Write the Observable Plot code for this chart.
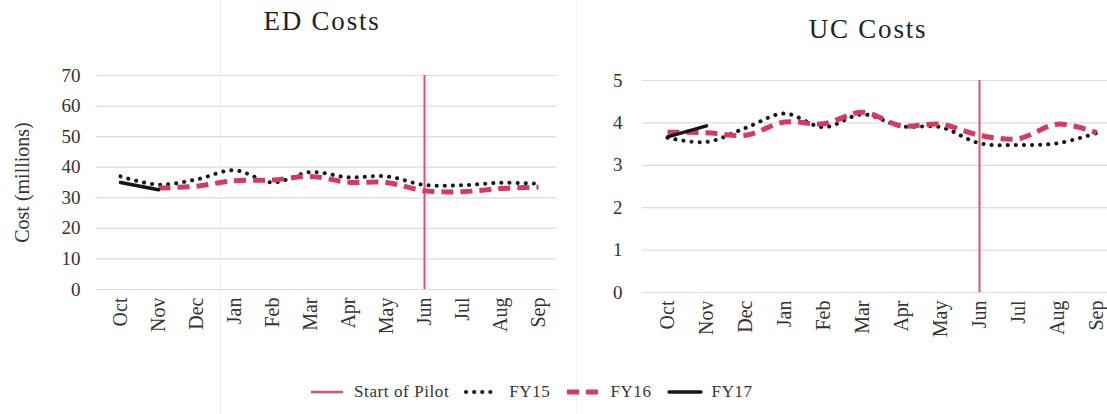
<!DOCTYPE html>
<html>
<head>
<meta charset="utf-8">
<script src="https://cdn.jsdelivr.net/npm/d3@7"></script>
<script src="https://cdn.jsdelivr.net/npm/@observablehq/plot@0.6"></script>
<style>
  html, body { margin: 0; padding: 0; background: #fff; }
  #wrap { position: relative; width: 1107px; height: 414px; overflow: hidden; font-family: "Liberation Serif", "Times New Roman", Times, serif; }
  .title { position: absolute; font-size: 27px; letter-spacing: 1.8px; color: #222; transform: translateX(-50%); white-space: nowrap; line-height: 1; }
  .panel { position: absolute; top: 0; }
  .sep { position: absolute; top: 0; width: 1px; height: 414px; background: #f0f0f0; }
  #legend { position: absolute; top: 382px; left: 308px; display: flex; align-items: center; font-size: 17px; letter-spacing: 0.6px; color: #333; white-space: nowrap; }
  #legend .item { display: flex; align-items: center; margin-right: 14px; }
  #legend svg { margin-right: 8px; }
  svg text { font-family: "Liberation Serif", "Times New Roman", Times, serif; }
</style>
</head>
<body>
<div id="wrap">
  <div class="sep" style="left:220px"></div>
  <div class="sep" style="left:576px"></div>
  <div class="title" style="left:322px; top:8px;">ED Costs</div>
  <div class="title" style="left:868px; top:16px;">UC Costs</div>
  <div id="left" class="panel" style="left:0px"></div>
  <div id="right" class="panel" style="left:560px"></div>
  <div id="legend"></div>
</div>
<script>
// ---- data ----
const months = ["Oct","Nov","Dec","Jan","Feb","Mar","Apr","May","Jun","Jul","Aug","Sep"];
const pilotMonth = "Jun";

const edFY15 = [37, 34.3, 36, 39, 35, 38.4, 36.7, 37, 34.2, 34.1, 34.9, 34.6];
const edFY16 = [null, 33.2, 33.8, 35.6, 35.8, 37, 35.1, 35, 32.3, 32, 33, 33.5];
const edFY17 = [35, 32.6];
const edTicks = [0, 10, 20, 30, 40, 50, 60, 70];

const ucFY15 = [3.65, 3.55, 3.88, 4.22, 3.9, 4.2, 3.92, 3.9, 3.52, 3.48, 3.52, 3.76];
const ucFY16 = [3.78, 3.77, 3.71, 4.02, 3.98, 4.25, 3.93, 3.97, 3.71, 3.63, 3.97, 3.77];
const ucFY17 = [3.67, 3.93];
const ucTicks = [0, 1, 2, 3, 4, 5];

const seriesNames = ["FY15", "FY16", "FY17"];
const pilotLabel = "Start of Pilot";

// ---- styles ----
const FONT = '"Liberation Serif", "Times New Roman", Times, serif';
const RED = "#d63a5e";
const PILOT = "#e3506b";
const BLACK = "#151515";
const styleFY = {
  FY15: {stroke: BLACK, strokeWidth: 4, strokeDasharray: "0.1 8", strokeLinecap: "round"},
  FY16: {stroke: RED, strokeWidth: 5, strokeDasharray: "12 7", strokeLinecap: "butt"},
  FY17: {stroke: BLACK, strokeWidth: 3.5, strokeLinecap: "round"}
};

function toRows(values) {
  return values.map((v, i) => ({month: months[i], value: v}));
}

function panel({series, ticks, yMax, width, height, marginLeft, marginRight, marginTop, marginBottom, insetLeft, insetRight, yLabel, labelOffset, tickPadding}) {
  const marks = [
    Plot.ruleY(ticks, {stroke: "#dcdcdc", strokeWidth: 1.2}),
    Plot.ruleX([pilotMonth], {stroke: PILOT, strokeWidth: 2})
  ];
  seriesNames.forEach((name, k) => {
    marks.push(Plot.line(toRows(series[k]), {
      x: "month", y: "value", curve: "catmull-rom", ...styleFY[name]
    }));
  });
  marks.push(Plot.axisX({tickSize: 0, tickPadding: 8, tickRotate: -90, label: null, fontSize: 20, fontFamily: FONT, fill: "#333"}));
  marks.push(Plot.axisY({
    ticks, tickFormat: d3.format("d"), tickSize: 0, tickPadding, fontSize: 19, fontFamily: FONT, fill: "#333",
    label: yLabel, labelAnchor: "center", labelArrow: "none", labelOffset
  }));
  return Plot.plot({
    width, height, marginLeft, marginRight, marginTop, marginBottom,
    style: {fontFamily: FONT, fontSize: "19px", color: "#333", background: "transparent"},
    x: {type: "point", domain: months, padding: 0, insetLeft, insetRight},
    y: {domain: [0, yMax]},
    marks
  });
}

const leftChart = panel({
  series: [edFY15, edFY16, edFY17], ticks: edTicks, yMax: 70,
  width: 560, height: 345, marginLeft: 96, marginRight: 4, marginTop: 75, marginBottom: 56,
  insetLeft: 19, insetRight: 13, yLabel: "Cost (millions)", labelOffset: 82, tickPadding: 16
});
leftChart.querySelectorAll("g[aria-label='y-axis label'] text").forEach(t => t.setAttribute("font-size", 20));
document.getElementById("left").appendChild(leftChart);

const rightChart = panel({
  series: [ucFY15, ucFY16, ucFY17], ticks: ucTicks, yMax: 5,
  width: 547, height: 345, marginLeft: 82, marginRight: 0, marginTop: 80, marginBottom: 53,
  insetLeft: 24, insetRight: 10, yLabel: null, labelOffset: 0, tickPadding: 20
});
document.getElementById("right").appendChild(rightChart);

// ---- legend ----
const legend = document.getElementById("legend");
const legendItems = [
  {label: pilotLabel, style: {stroke: PILOT, strokeWidth: 2.5}},
  ...seriesNames.map(n => ({label: n, style: styleFY[n]}))
];
legendItems.forEach(it => {
  const div = document.createElement("div");
  div.className = "item";
  const s = it.style;
  div.innerHTML = `<svg width="38" height="10"><line x1="3" y1="5" x2="35" y2="5" stroke="${s.stroke}" stroke-width="${s.strokeWidth}" ${s.strokeDasharray ? `stroke-dasharray="${s.strokeDasharray}"` : ""} stroke-linecap="${s.strokeLinecap || "butt"}"/></svg><span>${it.label}</span>`;
  legend.appendChild(div);
});
</script>
</body>
</html>
